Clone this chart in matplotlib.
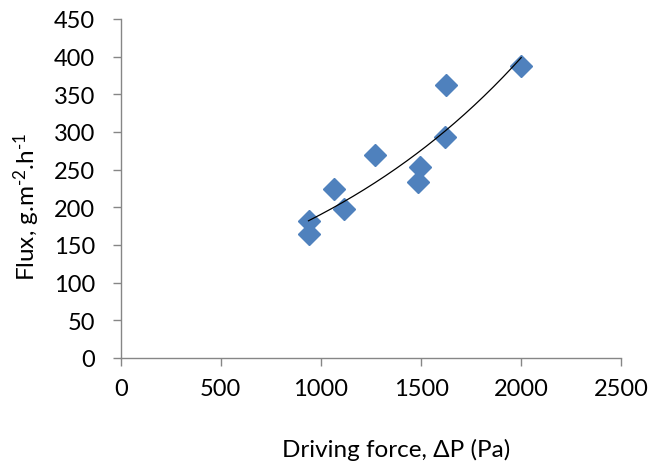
import numpy as np
import matplotlib
matplotlib.use("Agg")
import matplotlib.pyplot as plt

plt.rcParams['font.family'] = ['Lato', 'DejaVu Sans']
plt.rcParams['mathtext.fontset'] = 'custom'
plt.rcParams['mathtext.rm'] = 'Lato'
plt.rcParams['mathtext.it'] = 'Lato'

# driving force (Pa) vs measured flux (g/m2/h)
dP   = [938, 938, 1066, 1116, 1271, 1496, 1485, 1621, 1626, 2000]
flux = [182, 165, 224, 198, 270, 253, 234, 293, 362, 388]

x_ticks = [0, 500, 1000, 1500, 2000, 2500]
y_ticks = [0, 50, 100, 150, 200, 250, 300, 350, 400, 450]

blue = '#4F81BD'
axis_grey = '#868686'

fig = plt.figure(figsize=(6.66, 4.64), dpi=100)
ax = fig.add_axes([0.1812, 0.2263, 0.7517, 0.7306])

ax.plot(dP, flux, linestyle='none', marker='D', ms=11.5, color=blue, mec=blue, zorder=2)

# exponential trend line, y = a*exp(b*x)
b, ln_a = np.polyfit(dP, np.log(flux), 1)
xs = np.linspace(min(dP), max(dP), 200)
ax.plot(xs, np.exp(ln_a) * np.exp(b * xs), color='black', lw=0.9, zorder=3)

ax.set_xlim(0, 2500)
ax.set_ylim(0, 450)
ax.set_xticks(x_ticks)
ax.set_yticks(y_ticks)

for s in ['top', 'right']:
    ax.spines[s].set_visible(False)
for s in ['left', 'bottom']:
    ax.spines[s].set_color(axis_grey)
    ax.spines[s].set_linewidth(1.0)

ax.tick_params(axis='both', direction='out', length=5.5, width=1.0, color=axis_grey,
               labelsize=17, labelcolor='black')
ax.tick_params(axis='x', pad=9)
ax.tick_params(axis='y', pad=13)

ax.set_xlabel(u'Driving force, \u0394P (Pa)', fontsize=17.5)
ax.set_ylabel(r'Flux, g.m$^{\text{-2}}$.h$^{\text{-1}}$', fontsize=17.5)
ax.xaxis.set_label_coords(0.55, -0.236)
ax.yaxis.set_label_coords(-0.158, 0.45)

fig.savefig('out.png', dpi=100)
